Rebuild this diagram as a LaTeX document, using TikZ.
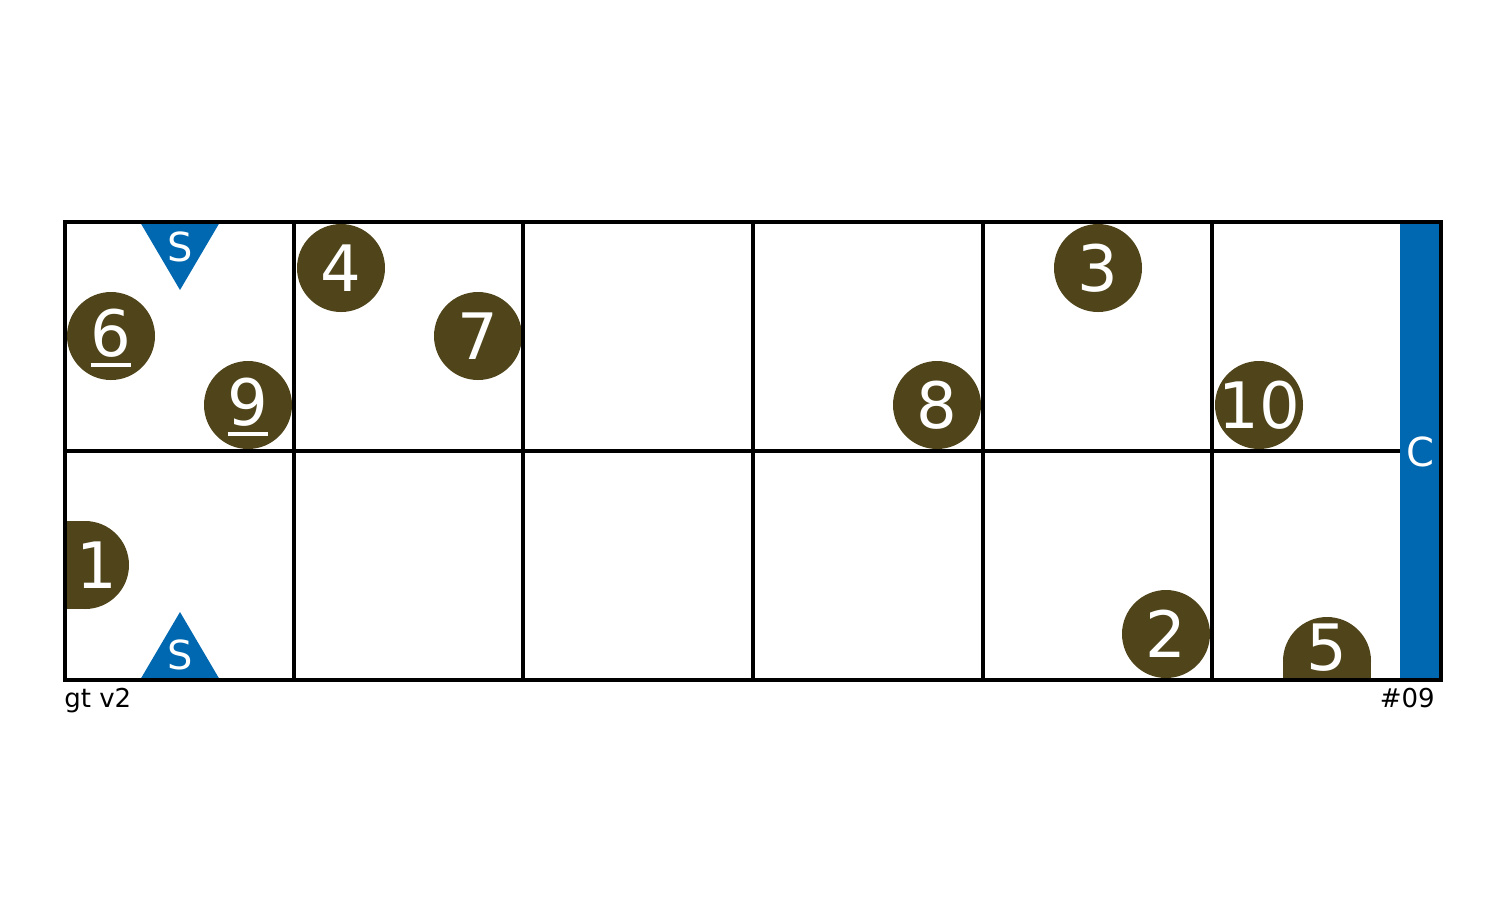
\documentclass[tikz,border=0pt]{standalone}
\usepackage{fontspec}
\setmainfont{DejaVu Sans}
\definecolor{stonebrown}{RGB}{80,69,26}
\definecolor{sideblue}{RGB}{0,104,176}
\newcommand{\uldigit}[1]{\setbox0\hbox{#1}\rlap{\copy0}\raisebox{-5pt}[0pt][3pt]{\rule{\wd0}{2pt}}}

\begin{document}
\begin{tikzpicture}[x=0.5pt, y=-0.5pt,
    stone/.style={circle, fill=stonebrown, text=white, minimum size=44pt, inner sep=0pt, font=\fontsize{32}{32}\selectfont},
    stonetext/.style={text=white, inner sep=0pt, font=\fontsize{32}{32}\selectfont},
    marker/.style={text=white, inner sep=0pt, font=\fontsize{20}{20}\selectfont},
    board/.style={line width=1.8pt}]
        \useasboundingbox (0,0) rectangle (1503,902);

        % side bar and the two start marks
        \fill[sideblue] (1400,223) rectangle (1440,679);
        \node[marker] (c) at (1420,452) {C};
        \fill[sideblue] (140,222) -- (220,222) -- (180,290) -- cycle;
        \node[marker] (stop) at (180,247) {S};
        \fill[sideblue] (140,680) -- (220,680) -- (180,612) -- cycle;
        \node[marker] (sbot) at (180,655) {S};

        % stones cut by the board edge
        \begin{scope}
          \clip (65,222) rectangle (1441,680);
          \fill[stonebrown] (65,521) rectangle (85,609);
          \fill[stonebrown] (85,565) circle (44);
          \fill[stonebrown] (1283,661) rectangle (1371,680);
          \fill[stonebrown] (1327,661) circle (44);
        \end{scope}
        \node[stonetext] (s1) at (97,565) {1};
        \node[stonetext] (s5) at (1327,648) {5};

        % stones
        \node[stone] (s4)  at (341,268)  {4};
        \node[stone] (s6)  at (111,336)  {\uldigit{6}};
        \node[stone] (s9)  at (248,405)  {\uldigit{9}};
        \node[stone] (s7)  at (478,336)  {7};
        \node[stone] (s8)  at (937,405)  {8};
        \node[stone] (s3)  at (1098,268) {3};
        \node[stone] (s10) at (1259,405) {\makebox[20pt]{10}};
        \node[stone] (s2)  at (1166,634) {2};

        % board
        \foreach \x in {294,523,753,983,1212}
          \draw[board] (\x,222) -- (\x,680);
        \draw[board] (65,451) -- (1400,451);
        \draw[board] (65,222) rectangle (1441,680);

        \node[anchor=base west, inner sep=0pt, font=\fontsize{13}{13}\selectfont] (ver) at (64,707) {gt v2};
        \node[anchor=base east, inner sep=0pt, font=\fontsize{13}{13}\selectfont] (tag) at (1435,707) {\#09};
      \end{tikzpicture}
\end{document}
